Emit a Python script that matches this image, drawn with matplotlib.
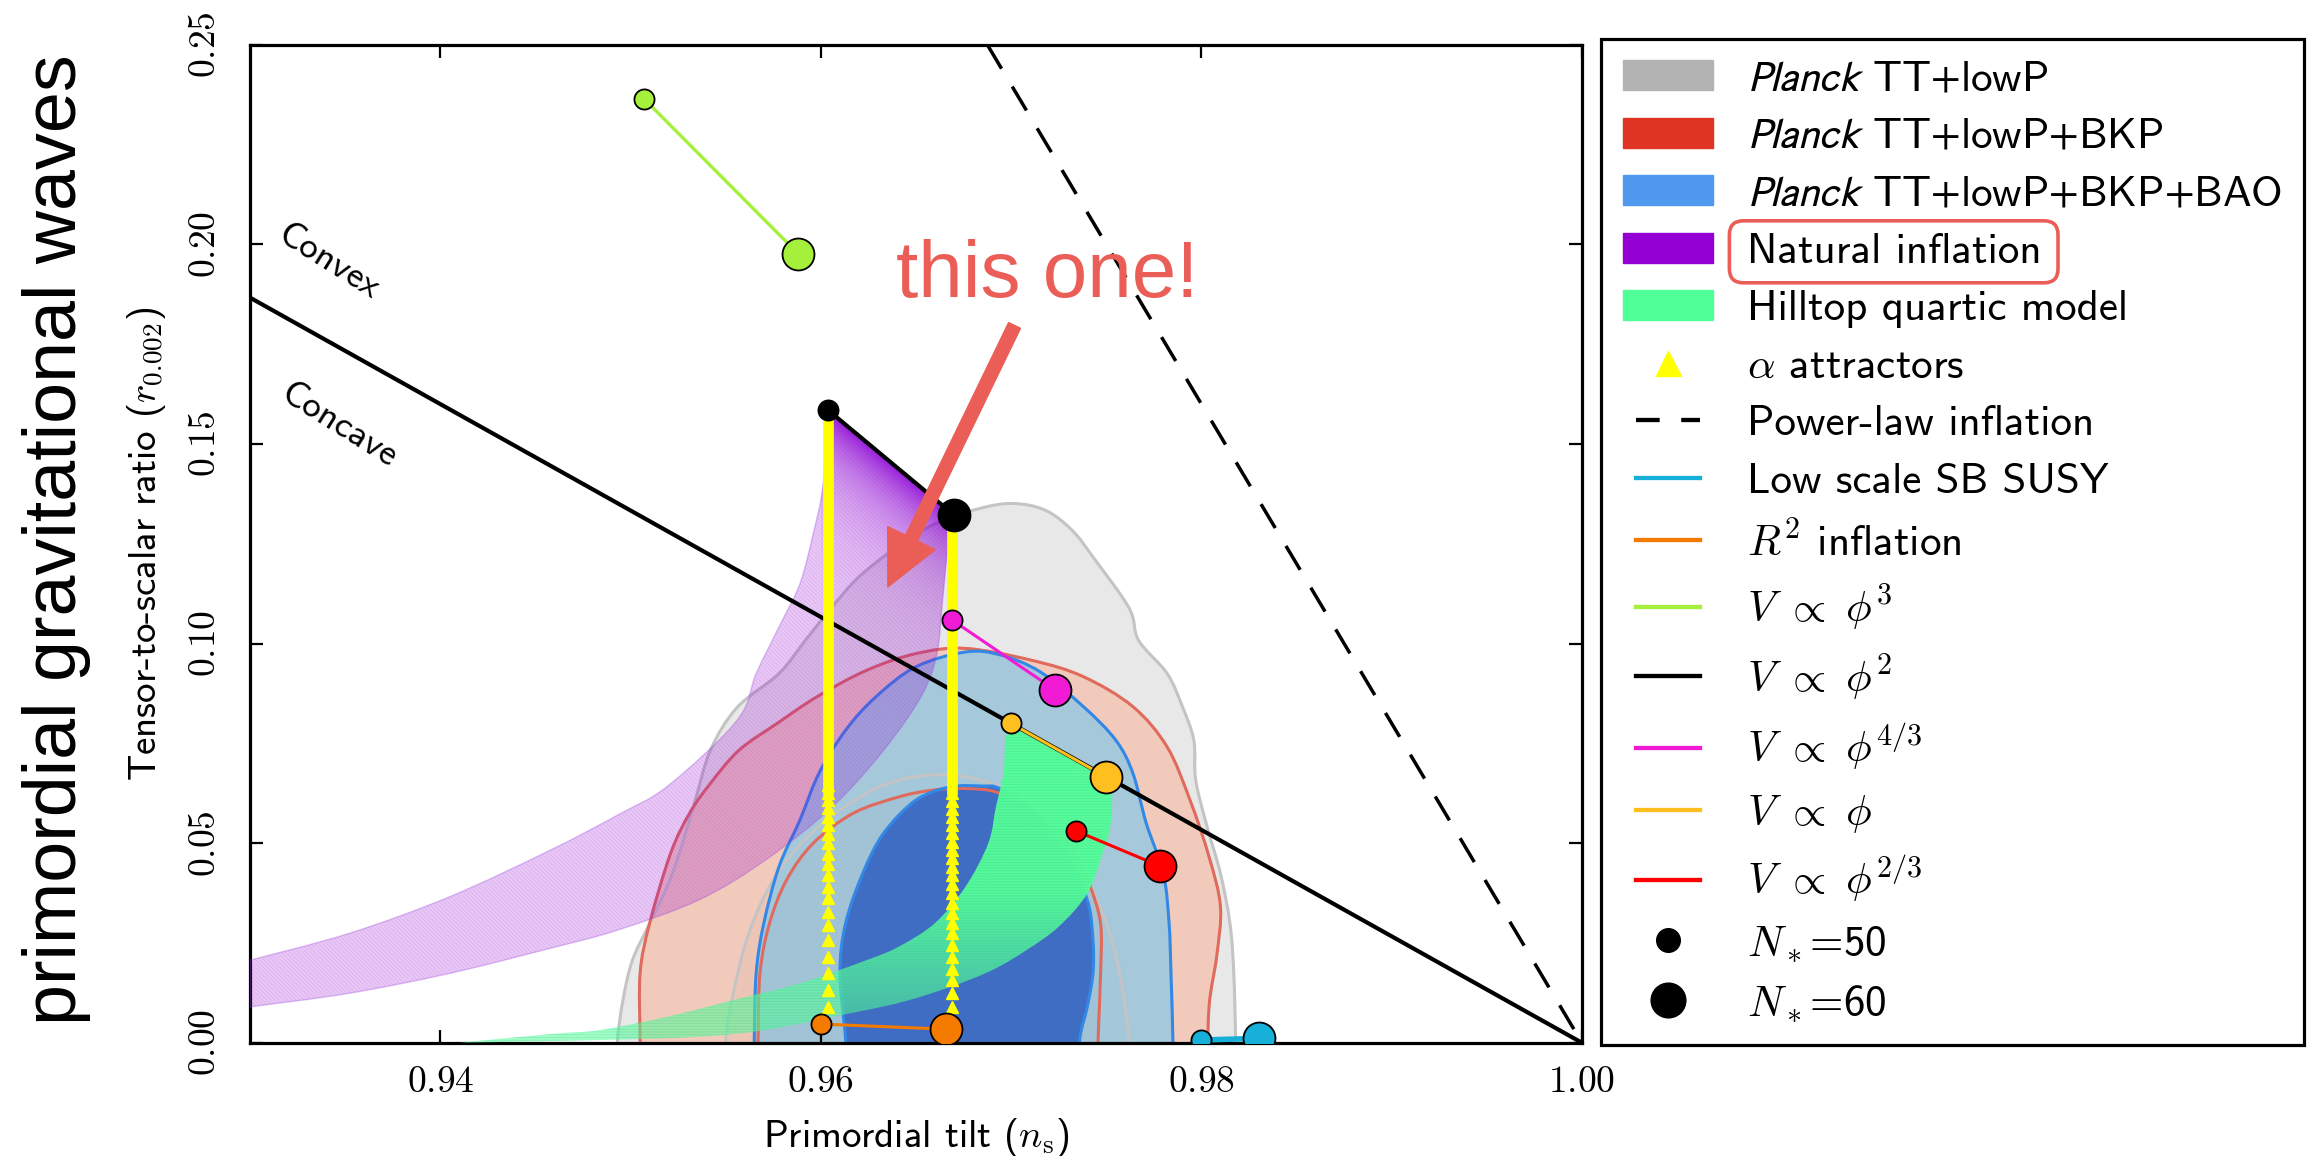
import numpy as np
import matplotlib.pyplot as plt
from matplotlib.lines import Line2D
from matplotlib.patches import Patch, PathPatch, FancyBboxPatch
from matplotlib.path import Path
from matplotlib.transforms import IdentityTransform
from matplotlib.legend_handler import HandlerLine2D

plt.rcParams['mathtext.fontset'] = 'cm'
plt.rcParams['font.family'] = ['cmss10', 'DejaVu Sans']
plt.rcParams['axes.unicode_minus'] = False
plt.rcParams['hatch.linewidth'] = 0.7

# ---------------- data ----------------
xticks = [0.94, 0.96, 0.98, 1.00]
yticks = [0.00, 0.05, 0.10, 0.15, 0.20, 0.25]
xtick_labels = ['0.94', '0.96', '0.98', '1.00']
ytick_labels = ['0.00', '0.05', '0.10', '0.15', '0.20', '0.25']

# Planck TT+lowP (grey), 95% and 68%
tt95_ns = [0.9493, 0.9493, 0.9496, 0.9501, 0.9510, 0.9522, 0.9533, 0.9542, 0.9556, 0.9578, 0.9592, 0.9606,
           0.9620, 0.9640, 0.9660, 0.9683, 0.9701, 0.9718, 0.9732, 0.9743, 0.9762, 0.9767, 0.9782, 0.9790,
           0.9796, 0.9797, 0.9803, 0.9810, 0.9815, 0.9817, 0.9818, 0.9818]
tt95_r = [-0.01, 0.0000, 0.0107, 0.0207, 0.0299, 0.0424, 0.0591, 0.0733, 0.0840, 0.0925, 0.1009, 0.1092,
          0.1167, 0.1242, 0.1300, 0.1338, 0.1351, 0.1334, 0.1284, 0.1217, 0.1089, 0.1008, 0.0925, 0.0842,
          0.0758, 0.0658, 0.0541, 0.0424, 0.0299, 0.0174, 0.0000, -0.01]
tt68_ns = [0.9550, 0.9550, 0.9554, 0.9561, 0.9571, 0.9585, 0.9603, 0.9624, 0.9641, 0.9659, 0.9676, 0.9694,
           0.9710, 0.9728, 0.9740, 0.9750, 0.9757, 0.9762, 0.9762]
tt68_r = [-0.01, 0.0007, 0.0124, 0.0257, 0.0374, 0.0474, 0.0558, 0.0625, 0.0658, 0.0671, 0.0666, 0.0641,
          0.0590, 0.0500, 0.0408, 0.0299, 0.0174, 0.0007, -0.01]

# Planck TT+lowP+BKP (red)
bkp95_ns = [0.9505, 0.9505, 0.9505, 0.9510, 0.9521, 0.9531, 0.9542, 0.9557, 0.9577, 0.9598, 0.9624, 0.9650,
            0.9676, 0.9711, 0.9738, 0.9764, 0.9782, 0.9794, 0.9804, 0.9810, 0.9808, 0.9804, 0.9803]
bkp95_r = [-0.01, 0.0007, 0.0174, 0.0299, 0.0474, 0.0575, 0.0650, 0.0733, 0.0800, 0.0867, 0.0933, 0.0975,
           0.0988, 0.0958, 0.0917, 0.0842, 0.0741, 0.0608, 0.0466, 0.0341, 0.0216, 0.0090, -0.01]
bkp68_ns = [0.9567, 0.9567, 0.9568, 0.9573, 0.9582, 0.9596, 0.9617, 0.9641, 0.9659, 0.9676, 0.9694, 0.9718,
            0.9733, 0.9741, 0.9747, 0.9747, 0.9746, 0.9745]
bkp68_r = [-0.01, 0.0007, 0.0174, 0.0299, 0.0408, 0.0500, 0.0575, 0.0616, 0.0633, 0.0637, 0.0625, 0.0560,
           0.0480, 0.0399, 0.0299, 0.0174, 0.0049, -0.01]

# Planck TT+lowP+BKP+BAO (blue)
bao95_ns = [0.9565, 0.9565, 0.9566, 0.9570, 0.9578, 0.9589, 0.9599, 0.9613, 0.9629, 0.9650, 0.9676, 0.9694,
            0.9715, 0.9738, 0.9755, 0.9764, 0.9771, 0.9780, 0.9783, 0.9784, 0.9785, 0.9785]
bao95_r = [-0.01, 0.0007, 0.0174, 0.0299, 0.0441, 0.0558, 0.0675, 0.0783, 0.0867, 0.0942, 0.0979, 0.0972,
           0.0930, 0.0842, 0.0758, 0.0675, 0.0550, 0.0424, 0.0299, 0.0174, 0.0007, -0.01]
bao68_ns = [0.9613, 0.9613, 0.9610, 0.9613, 0.9622, 0.9633, 0.9650, 0.9668, 0.9685, 0.9694, 0.9712, 0.9728,
            0.9740, 0.9743, 0.9743, 0.9740, 0.9736, 0.9736]
bao68_r = [-0.01, 0.0007, 0.0174, 0.0299, 0.0424, 0.0525, 0.0608, 0.0641, 0.0643, 0.0637, 0.0580, 0.0480,
           0.0358, 0.0257, 0.0174, 0.0090, 0.0007, -0.01]

# Natural inflation band (N=50 edge, N=60 edge)
ni50_ns = [0.9300, 0.9352, 0.9405, 0.9458, 0.9493, 0.9520, 0.9556, 0.9566, 0.9578, 0.9589, 0.9596, 0.9601, 0.9604]
ni50_r = [0.0207, 0.0274, 0.0366, 0.0483, 0.0570, 0.0645, 0.0808, 0.0925, 0.1042, 0.1150, 0.1276, 0.1392, 0.1585]
ni60_ns = [0.9300, 0.9352, 0.9405, 0.9458, 0.9493, 0.9536, 0.9571, 0.9606, 0.9633, 0.9653, 0.9661, 0.9664, 0.9667, 0.9670]
ni60_r = [0.0090, 0.0124, 0.0174, 0.0237, 0.0282, 0.0358, 0.0458, 0.0591, 0.0733, 0.0870, 0.0975, 0.1109, 0.1250, 0.1322]

# Hilltop quartic band
ht_up_ns = [0.9700, 0.9697, 0.9696, 0.9692, 0.9688, 0.9676, 0.9660, 0.9641, 0.9624, 0.9589, 0.9554, 0.9519, 0.9484, 0.9458, 0.9410]
ht_up_r = [0.0800, 0.0758, 0.0675, 0.0591, 0.0500, 0.0391, 0.0300, 0.0241, 0.0207, 0.0149, 0.0107, 0.0065, 0.0032, 0.0022, 0.0000]
ht_lo_ns = [0.9750, 0.9753, 0.9752, 0.9748, 0.9740, 0.9725, 0.9708, 0.9690, 0.9668, 0.9641, 0.9606, 0.9571, 0.9536, 0.9484, 0.9410]
ht_lo_r = [0.0666, 0.0625, 0.0541, 0.0474, 0.0374, 0.0291, 0.0232, 0.0182, 0.0140, 0.0100, 0.0065, 0.0032, 0.0015, 0.0007, 0.0000]

# alpha attractors (triangles) and the merged bar above them
alpha_ns = [0.9604, 0.9669]
alpha_r50 = [0.0090, 0.0132, 0.0174, 0.0216, 0.0257, 0.0295, 0.0328, 0.0362, 0.0391, 0.0420, 0.0448, 0.0474,
             0.0500, 0.0523, 0.0545, 0.0566, 0.0587, 0.0607, 0.0626, 0.0645]
alpha_r60 = [0.0090, 0.0124, 0.0157, 0.0186, 0.0216, 0.0245, 0.0274, 0.0299, 0.0324, 0.0349, 0.0374, 0.0399,
             0.0420, 0.0441, 0.0462, 0.0483, 0.0504, 0.0525, 0.0545, 0.0565, 0.0585, 0.0605, 0.0625]
alpha_bar_bottom = 0.062

# convex/concave divider and power-law line
divider_ns = [0.93, 1.00]
divider_r = [0.18667, 0.0]
powerlaw_ns = [0.96875, 1.00]
powerlaw_r = [0.25, 0.0]

# single-field models: (N=50, N=60)
model_labels = ['Low scale SB SUSY', r'$R^2$ inflation', r'$V\ \propto\ \phi^3$', r'$V\ \propto\ \phi^2$',
                r'$V\ \propto\ \phi^{4/3}$', r'$V\ \propto\ \phi$', r'$V\ \propto\ \phi^{2/3}$']
model_colors = ['#16B0D8', '#F57A00', '#A4F03A', '#000000', '#F21BD5', '#FFC01F', '#FF0000']
model_ns = [[0.9800, 0.9830], [0.9600, 0.9666], [0.9507, 0.9588], [0.9604, 0.9670],
            [0.9669, 0.9723], [0.9700, 0.9750], [0.9734, 0.9778]]
model_r = [[0.0007, 0.0011], [0.0047, 0.0034], [0.2365, 0.1977], [0.1584, 0.1322],
           [0.1059, 0.0884], [0.0800, 0.0666], [0.0531, 0.0443]]
model_lw = [4.0, 2.2, 2.4, 3.0, 2.2, 2.2, 2.2]

planck_labels = [r'$Planck$ TT$+$lowP', r'$Planck$ TT$+$lowP$+$BKP', r'$Planck$ TT$+$lowP$+$BKP$+$BAO']
planck_colors = ['#B3B3B3', '#DF3323', '#4F9AEF']


def smooth(xs, ys):
    # Catmull-Rom curve through the read points, drawn as cubic Bezier segments
    p = np.column_stack([xs, ys])
    ext = np.vstack([p[0], p, p[-1]])
    verts = [p[0]]
    codes = [Path.MOVETO]
    for i in range(1, len(ext) - 2):
        c1 = ext[i] + (ext[i + 1] - ext[i - 1]) / 6
        c2 = ext[i + 1] - (ext[i + 2] - ext[i]) / 6
        verts += [c1, c2, ext[i + 1]]
        codes += [Path.CURVE4] * 3
    return verts, codes


def band_path(ax_, ay_, bx_, by_):
    v1, c1 = smooth(ax_, ay_)
    v2, c2 = smooth(bx_[::-1], by_[::-1])
    c2 = [Path.LINETO] + c2[1:]
    return Path(v1 + v2 + [v1[0]], c1 + c2 + [Path.CLOSEPOLY])


def contour_path(xs, ys):
    v, c = smooth(xs, ys)
    return Path(v + [v[0]], c + [Path.CLOSEPOLY])


class ShortLine(HandlerLine2D):
    # line handles are drawn a little shorter than the patch handles
    def create_artists(self, legend, orig_handle, xdescent, ydescent, width, height, fontsize, trans):
        pad = 0.145 * width
        return super().create_artists(legend, orig_handle, xdescent - pad, ydescent, width - 2 * pad,
                                      height, fontsize, trans)


# ---------------- figure ----------------
W, H = 2322, 1156
fig = plt.figure(figsize=(W / 100, H / 100), dpi=100)
ax = fig.add_axes([250 / W, 1 - 1042.8 / H, 1332 / W, 998 / H])

# Planck contours
fills = [(tt95_ns, tt95_r, '#E8E8E8', 1.0), (tt68_ns, tt68_r, '#C8C8C8', 0.5),
         (bkp95_ns, bkp95_r, '#F5BEAA', 0.7), (bkp68_ns, bkp68_r, '#DC8C82', 0.35),
         (bao95_ns, bao95_r, '#8CC8E6', 0.75), (bao68_ns, bao68_r, '#3A69C4', 0.95)]
for k, (ns_, r_, c, a) in enumerate(fills):
    ax.add_patch(PathPatch(contour_path(ns_, r_), fc=c, alpha=a, lw=0, zorder=1 + 0.05 * k))
edges = [(tt95_ns, tt95_r, '#C4C4C4'), (tt68_ns, tt68_r, '#C4C4C4'),
         (bkp95_ns, bkp95_r, '#E06A5C'), (bkp68_ns, bkp68_r, '#E06A5C'),
         (bao95_ns, bao95_r, '#3388E6'), (bao68_ns, bao68_r, '#3388E6')]
for ns_, r_, c in edges:
    v, cd = smooth(ns_, r_)
    ax.add_patch(PathPatch(Path(v, cd), fill=False, ec=c, lw=2.2, zorder=2))

# natural inflation band
ni_path = band_path(ni50_ns, ni50_r, ni60_ns, ni60_r)
ax.add_patch(PathPatch(ni_path, fc='#9400D3', alpha=0.21, ec='none', zorder=3))
ax.add_patch(PathPatch(ni_path, fill=False, ec=(0.58, 0.0, 0.83, 0.10), lw=0,
                       hatch='\\\\\\\\\\\\\\\\', zorder=3.05))
ax.add_patch(PathPatch(ni_path, fill=False, ec=(0.62, 0.3, 0.88, 0.35), lw=1.0, zorder=3.1))
# darker shading towards the phi^2 limit
gx = np.linspace(0.9600, 0.9672, 160)
gy = np.linspace(0.08, 0.16, 240)
GX, GY = np.meshgrid(gx, gy)
slope = (model_r[3][1] - model_r[3][0]) / (model_ns[3][1] - model_ns[3][0])
dist = np.clip(model_r[3][0] + slope * (GX - model_ns[3][0]) - GY, 0, None)
rgba = np.zeros(GX.shape + (4,))
rgba[..., 0] = 0.54
rgba[..., 1] = 0.0
rgba[..., 2] = 0.83
rgba[..., 3] = 0.88 * np.exp(-dist / 0.013)
im = ax.imshow(rgba, extent=[gx[0], gx[-1], gy[0], gy[-1]], origin='lower', aspect='auto',
               interpolation='bilinear', zorder=3.2)
im.set_clip_path(PathPatch(ni_path, transform=ax.transData))

# hilltop band: nearly opaque at the top, fading where its strands spread out
ht_path = band_path(ht_up_ns, ht_up_r, ht_lo_ns, ht_lo_r)
hy = np.linspace(0.0, 0.085, 200)
hshade = np.zeros((200, 2, 4))
hshade[..., 0] = 0.33
hshade[..., 1] = 1.0
hshade[..., 2] = 0.6
hshade[..., 3] = (0.55 + 0.42 * np.clip((hy - 0.008) / 0.03, 0, 1))[:, None]
imh = ax.imshow(hshade, extent=[0.940, 0.976, 0.0, 0.085], origin='lower', aspect='auto',
                interpolation='bilinear', zorder=3.5)
imh.set_clip_path(PathPatch(ht_path, transform=ax.transData))
ax.add_patch(PathPatch(ht_path, fill=False, ec=(0.25, 0.75, 0.55, 0.25), lw=0,
                       hatch='------', zorder=3.55))

# divider and power-law lines
ax.plot(divider_ns, divider_r, color='k', lw=3.0, zorder=4)
ax.plot(powerlaw_ns, powerlaw_r, color='k', lw=2.5, ls=(0, (8, 6)), zorder=4)

# alpha attractors
for x0, rr in zip(alpha_ns, [alpha_r50, alpha_r60]):
    top = model_r[3][0] if x0 < 0.963 else model_r[3][1]
    ax.plot([x0, x0], [alpha_bar_bottom, top], color='#FFFF00', lw=7.7, solid_capstyle='butt', zorder=5)
    ax.plot([x0] * len(rr), rr, ls='none', marker='^', ms=8.5, color='#FFFF00', mec='#FFFF00', zorder=5)

# models
for ns_, r_, c, lw in zip(model_ns, model_r, model_colors, model_lw):
    ax.plot(ns_, r_, color=c, lw=lw, zorder=6)
    ax.plot(ns_[0], r_[0], 'o', ms=14.5, mfc=c, mec='k', mew=1.3, zorder=7)
    ax.plot(ns_[1], r_[1], 'o', ms=23, mfc=c, mec='k', mew=1.3, zorder=7)

ax.text(0.93414, 0.1955, 'Convex', fontsize=27, rotation=-32, rotation_mode='anchor',
        ha='center', va='center', zorder=8)
ax.text(0.93470, 0.1545, 'Concave', fontsize=27, rotation=-32, rotation_mode='anchor',
        ha='center', va='center', zorder=8)

# highlight annotation
hl = '#EB5E58'
ax.text(0.96393, 0.18683, 'this one!', fontsize=57.6, family='Liberation Sans', color=hl,
        ha='left', va='baseline', zorder=10)
ax.annotate('', xy=(0.96352, 0.1142), xytext=(0.97018, 0.1797),
            arrowprops=dict(arrowstyle='simple,head_length=3.9,head_width=3.8,tail_width=0.95',
                            color=hl, shrinkA=0, shrinkB=0, mutation_scale=10), zorder=10)

# axes styling
ax.set_xlim(0.93, 1.00)
ax.set_ylim(0.0, 0.25)
ax.set_xticks(xticks)
ax.set_xticklabels(['$' + t + '$' for t in xtick_labels])
ax.set_yticks(yticks)
ax.set_yticklabels(['$' + t + '$' for t in ytick_labels], rotation=90, va='center')
ax.tick_params(direction='in', length=9.5, width=1.6, top=True, right=True, labelsize=27)
ax.tick_params(axis='x', pad=17)
ax.tick_params(axis='y', pad=20)
for s in ax.spines.values():
    s.set_linewidth(2.3)
ax.set_xlabel(r'Primordial tilt ($n_{\rm s}$)', fontsize=28)
ax.set_ylabel(r'Tensor-to-scalar ratio ($r_{0.002}$)', fontsize=28)
ax.xaxis.set_label_coords(0.5, (1042.8 - 1116) / 998)
ax.yaxis.set_label_coords((168 - 250) / 1332, 0.5)

fig.text(76 / W, 1 - 539.5 / H, 'primordial gravitational waves', rotation=90, rotation_mode='anchor',
         ha='center', va='baseline', fontsize=53, family='Liberation Sans')

# legend
handles = [Patch(fc=c, ec=c) for c in planck_colors]
handles += [Patch(fc='#9400D3', ec='#9400D3'), Patch(fc='#50FF98', ec='#50FF98'),
            Line2D([], [], ls='none', marker='^', ms=18, color='#FFFF00')]
line_handles = [Line2D([], [], color='k', lw=3.1, ls=(0, (5.5, 5)))]
line_handles += [Line2D([], [], color=c, lw=3.1) for c in model_colors]
handles += line_handles
handles += [Line2D([], [], ls='none', marker='o', ms=17, color='k'),
            Line2D([], [], ls='none', marker='o', ms=25, color='k')]
labels = planck_labels + ['Natural inflation', 'Hilltop quartic model', r'$\alpha$ attractors',
                          'Power-law inflation'] + model_labels + [r'$N_*$=50', r'$N_*$=60']
leg = fig.legend(handles, labels, loc='upper left', bbox_to_anchor=(1601 / W, 1 - 38.6 / H),
                 borderaxespad=0, fontsize=31, frameon=True, fancybox=False, framealpha=1,
                 edgecolor='k', handlelength=2.1, handletextpad=0.8, labelspacing=0.45,
                 borderpad=0.5, handler_map={h: ShortLine() for h in line_handles})
leg.get_frame().set_linewidth(2.3)
for t in leg.get_texts()[:3]:
    t.set_math_fontfamily('stixsans')

# red rounded box around "Natural inflation"
fig.canvas.draw()
bb = leg.get_texts()[3].get_window_extent()
cy = (bb.y0 + bb.y1) / 2
box = FancyBboxPatch((bb.x0 - 18, cy - 31), bb.width + 34, 62,
                     boxstyle='round,pad=0,rounding_size=14', fc='none', ec=hl, lw=2.6,
                     transform=IdentityTransform(), zorder=20)
fig.patches.append(box)

fig.savefig('out.png', dpi=100)
